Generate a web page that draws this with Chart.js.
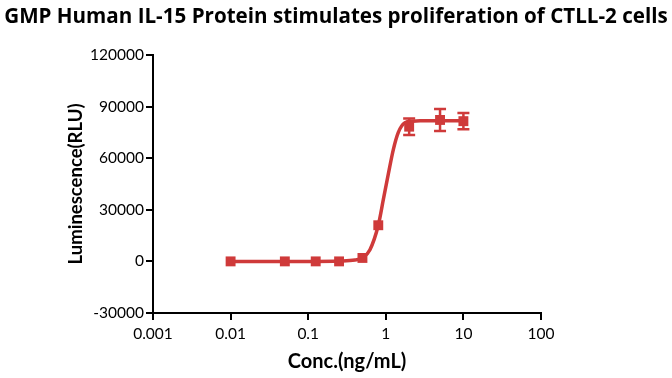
<!DOCTYPE html>
<html>
<head>
<meta charset="utf-8">
<script src="https://cdn.jsdelivr.net/npm/chart.js@4/dist/chart.umd.min.js"></script>
<style>
  html, body { margin: 0; padding: 0; background: #fff; }
  #wrap { width: 672px; height: 378px; }
</style>
</head>
<body>
<div id="wrap"><canvas id="chart" width="672" height="378"></canvas></div>
<script>
// ---- data ----
const conc = [0.01, 0.05, 0.125, 0.25, 0.5, 0.8, 2, 5, 10];
const rlu = [0, 0, 0, 0, 2000, 21000, 78300, 82200, 81500];
const rluErr = [0, 0, 0, 0, 0, 0, 4800, 6400, 4700];

// fitted curve
const fitConc = [0.01, 0.05, 0.125, 0.25, 0.4, 0.5, 0.625, 0.8, 0.93, 1.08, 1.25, 1.45, 1.75, 2.2, 3, 5, 10];
const fitRlu = [0, 0, 0, 200, 800, 2000, 6800, 21000, 36000, 51000, 65000, 75000, 80500, 81500, 81700, 81800, 81800];

const xTicks = [0.001, 0.01, 0.1, 1, 10, 100];
const xTickLabels = ['0.001', '0.01', '0.1', '1', '10', '100'];
const yTicks = [-30000, 0, 30000, 60000, 90000, 120000];

const RED = '#cf3a3a';
const FONT = 'Lato';

// error bars drawn through the chart's own scales
const errorBars = {
    id: 'errorBars',
    afterDatasetsDraw(chart) {
        const ctx = chart.ctx;
        const xs = chart.scales.x, ys = chart.scales.y;
        ctx.save();
        ctx.strokeStyle = RED;
        ctx.lineWidth = 2.5;
        conc.forEach((c, i) => {
            if (!rluErr[i]) return;
            const px = xs.getPixelForValue(c);
            const top = ys.getPixelForValue(rlu[i] + rluErr[i]);
            const bot = ys.getPixelForValue(rlu[i] - rluErr[i]);
            ctx.beginPath();
            ctx.moveTo(px, top); ctx.lineTo(px, bot);
            ctx.moveTo(px - 6, top); ctx.lineTo(px + 6, top);
            ctx.moveTo(px - 6, bot); ctx.lineTo(px + 6, bot);
            ctx.stroke();
        });
        ctx.restore();
    }
};

new Chart(document.getElementById('chart'), {
    type: 'scatter',
    data: {
        datasets: [
            {
                label: 'Data',
                data: conc.map((c, i) => ({ x: c, y: rlu[i] })),
                pointStyle: 'rect',
                pointRadius: 7,
                backgroundColor: RED,
                borderColor: RED,
                borderWidth: 0,
                showLine: false,
                order: 0
            },
            {
                label: 'Fit',
                data: fitConc.map((c, i) => ({ x: c, y: fitRlu[i] })),
                showLine: true,
                pointRadius: 0,
                borderColor: RED,
                borderWidth: 3.5,
                cubicInterpolationMode: 'monotone',
                order: 1
            }
        ]
    },
    options: {
        responsive: false,
        animation: false,
        events: [],
        layout: { padding: 0 },
        plugins: {
            legend: { display: false },
            tooltip: { enabled: false },
            title: {
                display: true,
                text: 'GMP Human IL-15 Protein stimulates proliferation of CTLL-2 cells',
                color: '#000',
                font: { family: 'Open Sans', size: 20.6, weight: 'bold' },
                padding: { top: 5, bottom: 25.2 }
            }
        },
        scales: {
            x: {
                type: 'logarithmic',
                min: 0.001,
                max: 100,
                afterBuildTicks: s => { s.ticks = xTicks.map(v => ({ value: v })); },
                afterFit: s => { s.height = 65; },
                border: { display: true, color: '#000', width: 2 },
                grid: { drawOnChartArea: false, drawTicks: true, tickLength: 7, color: '#000', lineWidth: 2 },
                ticks: {
                    color: '#000',
                    padding: 5,
                    maxRotation: 0,
                    autoSkip: false,
                    font: { family: FONT, size: 15.5 },
                    callback: (v, i) => xTickLabels[i]
                },
                title: {
                    display: true,
                    text: 'Conc.(ng/mL)',
                    color: '#000',
                    font: { family: FONT, size: 20, weight: 'bold' },
                    padding: { top: 0, bottom: 4 }
                }
            },
            y: {
                min: -30000,
                max: 120000,
                afterBuildTicks: s => { s.ticks = yTicks.map(v => ({ value: v })); },
                afterFit: s => { s.width = 153; },
                border: { display: true, color: '#000', width: 2 },
                grid: { drawOnChartArea: false, drawTicks: true, tickLength: 7, color: '#000', lineWidth: 2 },
                ticks: {
                    color: '#000',
                    padding: 2,
                    font: { family: FONT, size: 15.5 },
                    callback: v => String(v)
                },
                title: {
                    display: true,
                    text: 'Luminescence(RLU)',
                    color: '#000',
                    font: { family: FONT, size: 18.5, weight: 'bold' },
                    padding: { top: 64.5, bottom: 0 }
                }
            },
            // empty spacer on the right so the plot ends where the reference's does
            spacer: {
                type: 'linear',
                position: 'right',
                display: true,
                afterFit: s => { s.width = 131; },
                border: { display: false },
                grid: { display: false },
                ticks: { display: false }
            }
        }
    },
    plugins: [errorBars]
});
</script>
</body>
</html>
